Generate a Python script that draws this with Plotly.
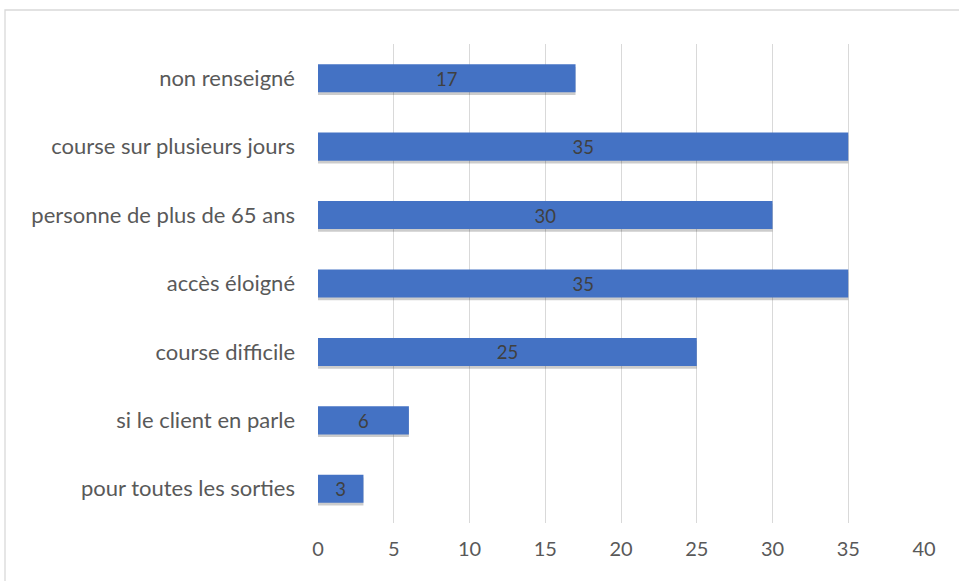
import plotly.graph_objects as go

# ── Data ─────────────────────────────────────────────
categories = [
    "non renseigné",
    "course sur plusieurs jours",
    "personne de plus de 65 ans",
    "accès éloigné",
    "course difficile",
    "si le client en parle",
    "pour toutes les sorties",
]
values = [17, 35, 30, 35, 25, 6, 3]
x_ticks = [0, 5, 10, 15, 20, 25, 30, 35, 40]

BAR_COLOR = "#4472C4"
TEXT_COLOR = "#595959"
GRID_COLOR = "#D9D9D9"
FONT = "Lato, 'Open Sans', sans-serif"

W, H = 959, 581
M_L, M_R, M_T, M_B = 318, 35, 44, 58
plot_w = W - M_L - M_R
plot_h = H - M_T - M_B

fig = go.Figure()

# soft drop shadow under the bars
fig.add_trace(go.Bar(
    x=values,
    y=categories,
    orientation="h",
    width=0.41,
    offset=-0.245,
    marker=dict(color="rgba(0,0,0,0.2)", line=dict(width=0)),
    hoverinfo="skip",
    showlegend=False,
))

fig.add_trace(go.Bar(
    x=values,
    y=categories,
    orientation="h",
    width=0.41,
    marker=dict(color=BAR_COLOR, line=dict(width=0)),
    text=[str(v) for v in values],
    textposition="inside",
    insidetextanchor="middle",
    textangle=0,
    textfont=dict(color="#404040", size=21, family=FONT),
    showlegend=False,
    hovertemplate="%{y}: %{x}<extra></extra>",
))

# chart-area border, like the spreadsheet frame
fig.add_shape(
    type="rect", xref="paper", yref="paper",
    x0=(5 - M_L) / plot_w, x1=(W + 5 - M_L) / plot_w,
    y0=(H - M_B - (H + 5)) / plot_h, y1=(H - M_B - 10) / plot_h,
    line=dict(color=GRID_COLOR, width=1.3),
    fillcolor="rgba(0,0,0,0)",
    layer="below",
)

fig.update_layout(
    width=W,
    height=H,
    margin=dict(l=M_L, r=M_R, t=M_T, b=M_B),
    paper_bgcolor="white",
    plot_bgcolor="white",
    font=dict(family=FONT, color=TEXT_COLOR, size=21),
    barmode="overlay",
    xaxis=dict(
        range=[0, 40],
        tickvals=x_ticks,
        showgrid=True,
        gridcolor=GRID_COLOR,
        gridwidth=1.3,
        zeroline=False,
        showline=False,
        ticks="",
        tickfont=dict(size=20, color=TEXT_COLOR),
        ticklabelstandoff=12,
        fixedrange=True,
    ),
    yaxis=dict(
        categoryorder="array",
        categoryarray=categories[::-1],
        showgrid=False,
        zeroline=False,
        showline=False,
        ticks="",
        tickfont=dict(size=22, color=TEXT_COLOR),
        ticklabelstandoff=22,
        fixedrange=True,
    ),
)

fig.write_html(
    "out.html",
    config={"displayModeBar": False},
    post_script="document.body.style.margin='0px';",
)
